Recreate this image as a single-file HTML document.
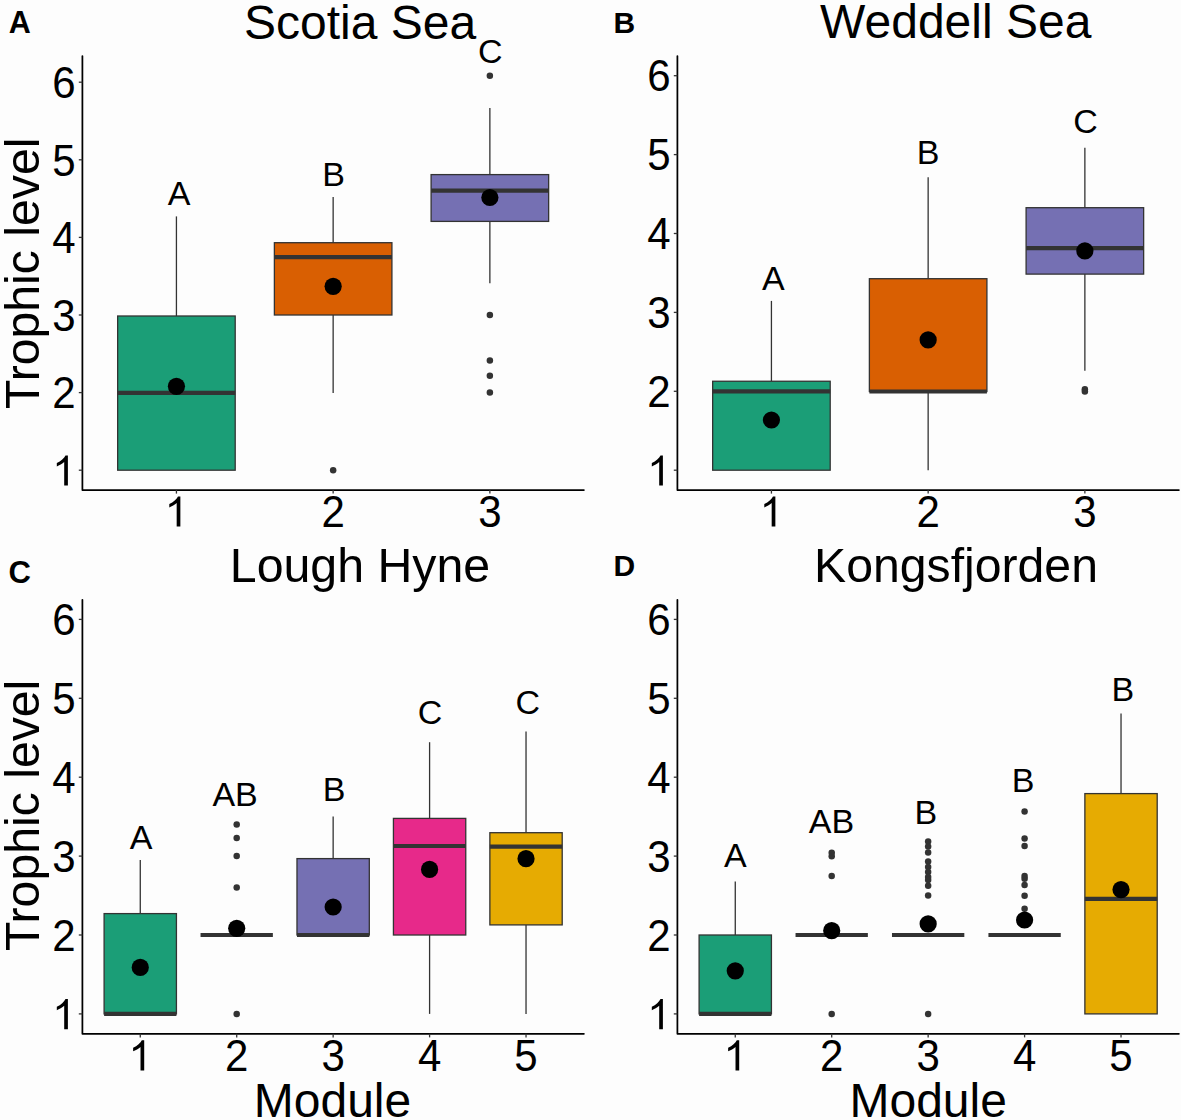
<!DOCTYPE html>
<html><head><meta charset="utf-8"><style>
html,body{margin:0;padding:0;background:#fdfdfd;}
svg{display:block;}
text{font-family:"Liberation Sans", sans-serif;fill:#000;}
</style></head><body>
<svg width="1181" height="1120" viewBox="0 0 1181 1120">
<rect width="1181" height="1120" fill="#fdfdfd"/>
<line x1="176.43" y1="216.40" x2="176.43" y2="316.00" stroke="#333" stroke-width="1.3"/>
<line x1="176.43" y1="470.20" x2="176.43" y2="470.20" stroke="#333" stroke-width="1.3"/>
<rect x="117.66" y="316.00" width="117.54" height="154.20" fill="#1B9E77" stroke="#333" stroke-width="1.3"/>
<line x1="117.66" y1="392.90" x2="235.20" y2="392.90" stroke="#333" stroke-width="4.2" stroke-linecap="butt"/>
<circle cx="176.43" cy="386.30" r="8.6" fill="#000"/>
<line x1="333.15" y1="197.10" x2="333.15" y2="242.70" stroke="#333" stroke-width="1.3"/>
<line x1="333.15" y1="315.00" x2="333.15" y2="392.90" stroke="#333" stroke-width="1.3"/>
<rect x="274.38" y="242.70" width="117.54" height="72.30" fill="#D95F02" stroke="#333" stroke-width="1.3"/>
<line x1="274.38" y1="257.20" x2="391.92" y2="257.20" stroke="#333" stroke-width="4.2" stroke-linecap="butt"/>
<circle cx="333.15" cy="470.20" r="3.25" fill="#333"/>
<circle cx="333.15" cy="286.30" r="8.6" fill="#000"/>
<line x1="489.87" y1="108.00" x2="489.87" y2="174.60" stroke="#333" stroke-width="1.3"/>
<line x1="489.87" y1="221.40" x2="489.87" y2="283.20" stroke="#333" stroke-width="1.3"/>
<rect x="431.10" y="174.60" width="117.54" height="46.80" fill="#7570B3" stroke="#333" stroke-width="1.3"/>
<line x1="431.10" y1="190.70" x2="548.64" y2="190.70" stroke="#333" stroke-width="4.2" stroke-linecap="butt"/>
<circle cx="489.87" cy="75.70" r="3.25" fill="#333"/>
<circle cx="489.87" cy="315.00" r="3.25" fill="#333"/>
<circle cx="489.87" cy="360.40" r="3.25" fill="#333"/>
<circle cx="489.87" cy="375.70" r="3.25" fill="#333"/>
<circle cx="489.87" cy="392.50" r="3.25" fill="#333"/>
<circle cx="489.87" cy="197.50" r="8.6" fill="#000"/>
<path d="M82.4 56V490H583.9" fill="none" stroke="#000" stroke-width="1.75" stroke-linecap="round" stroke-linejoin="round"/>
<line x1="78.80" y1="470.20" x2="82.40" y2="470.20" stroke="#333" stroke-width="1.3"/>
<line x1="78.80" y1="392.60" x2="82.40" y2="392.60" stroke="#333" stroke-width="1.3"/>
<line x1="78.80" y1="315.00" x2="82.40" y2="315.00" stroke="#333" stroke-width="1.3"/>
<line x1="78.80" y1="237.40" x2="82.40" y2="237.40" stroke="#333" stroke-width="1.3"/>
<line x1="78.80" y1="159.80" x2="82.40" y2="159.80" stroke="#333" stroke-width="1.3"/>
<line x1="78.80" y1="82.20" x2="82.40" y2="82.20" stroke="#333" stroke-width="1.3"/>
<line x1="176.43" y1="490.00" x2="176.43" y2="493.60" stroke="#333" stroke-width="1.3"/>
<line x1="333.15" y1="490.00" x2="333.15" y2="493.60" stroke="#333" stroke-width="1.3"/>
<line x1="489.87" y1="490.00" x2="489.87" y2="493.60" stroke="#333" stroke-width="1.3"/>
<line x1="771.43" y1="300.90" x2="771.43" y2="381.25" stroke="#333" stroke-width="1.3"/>
<line x1="771.43" y1="470.20" x2="771.43" y2="470.20" stroke="#333" stroke-width="1.3"/>
<rect x="712.66" y="381.25" width="117.54" height="88.95" fill="#1B9E77" stroke="#333" stroke-width="1.3"/>
<line x1="712.66" y1="391.40" x2="830.20" y2="391.40" stroke="#333" stroke-width="4.2" stroke-linecap="butt"/>
<circle cx="771.43" cy="420.00" r="8.6" fill="#000"/>
<line x1="928.15" y1="177.30" x2="928.15" y2="278.70" stroke="#333" stroke-width="1.3"/>
<line x1="928.15" y1="391.50" x2="928.15" y2="470.20" stroke="#333" stroke-width="1.3"/>
<rect x="869.38" y="278.70" width="117.54" height="112.80" fill="#D95F02" stroke="#333" stroke-width="1.3"/>
<line x1="869.38" y1="391.50" x2="986.92" y2="391.50" stroke="#333" stroke-width="4.2" stroke-linecap="butt"/>
<circle cx="928.15" cy="339.90" r="8.6" fill="#000"/>
<line x1="1084.87" y1="147.70" x2="1084.87" y2="207.70" stroke="#333" stroke-width="1.3"/>
<line x1="1084.87" y1="274.10" x2="1084.87" y2="370.70" stroke="#333" stroke-width="1.3"/>
<rect x="1026.10" y="207.70" width="117.54" height="66.40" fill="#7570B3" stroke="#333" stroke-width="1.3"/>
<line x1="1026.10" y1="248.10" x2="1143.64" y2="248.10" stroke="#333" stroke-width="4.2" stroke-linecap="butt"/>
<circle cx="1084.87" cy="389.20" r="3.25" fill="#333"/>
<circle cx="1084.87" cy="391.50" r="3.25" fill="#333"/>
<circle cx="1084.87" cy="250.80" r="8.6" fill="#000"/>
<path d="M677.4 56V490H1178.9" fill="none" stroke="#000" stroke-width="1.75" stroke-linecap="round" stroke-linejoin="round"/>
<line x1="673.80" y1="470.20" x2="677.40" y2="470.20" stroke="#333" stroke-width="1.3"/>
<line x1="673.80" y1="391.30" x2="677.40" y2="391.30" stroke="#333" stroke-width="1.3"/>
<line x1="673.80" y1="312.40" x2="677.40" y2="312.40" stroke="#333" stroke-width="1.3"/>
<line x1="673.80" y1="233.50" x2="677.40" y2="233.50" stroke="#333" stroke-width="1.3"/>
<line x1="673.80" y1="154.60" x2="677.40" y2="154.60" stroke="#333" stroke-width="1.3"/>
<line x1="673.80" y1="75.70" x2="677.40" y2="75.70" stroke="#333" stroke-width="1.3"/>
<line x1="771.43" y1="490.00" x2="771.43" y2="493.60" stroke="#333" stroke-width="1.3"/>
<line x1="928.15" y1="490.00" x2="928.15" y2="493.60" stroke="#333" stroke-width="1.3"/>
<line x1="1084.87" y1="490.00" x2="1084.87" y2="493.60" stroke="#333" stroke-width="1.3"/>
<line x1="140.27" y1="860.00" x2="140.27" y2="913.60" stroke="#333" stroke-width="1.3"/>
<line x1="140.27" y1="1013.90" x2="140.27" y2="1013.90" stroke="#333" stroke-width="1.3"/>
<rect x="104.10" y="913.60" width="72.33" height="100.30" fill="#1B9E77" stroke="#333" stroke-width="1.3"/>
<line x1="104.10" y1="1013.90" x2="176.43" y2="1013.90" stroke="#333" stroke-width="4.2" stroke-linecap="butt"/>
<circle cx="140.27" cy="967.40" r="8.6" fill="#000"/>
<line x1="236.71" y1="935.00" x2="236.71" y2="935.00" stroke="#333" stroke-width="1.3"/>
<line x1="236.71" y1="935.00" x2="236.71" y2="935.00" stroke="#333" stroke-width="1.3"/>
<rect x="200.54" y="935.00" width="72.33" height="0.00" fill="#D95F02" stroke="#333" stroke-width="1.3"/>
<line x1="200.54" y1="935.00" x2="272.87" y2="935.00" stroke="#333" stroke-width="4.2" stroke-linecap="butt"/>
<circle cx="236.71" cy="824.60" r="3.25" fill="#333"/>
<circle cx="236.71" cy="838.00" r="3.25" fill="#333"/>
<circle cx="236.71" cy="856.00" r="3.25" fill="#333"/>
<circle cx="236.71" cy="887.60" r="3.25" fill="#333"/>
<circle cx="236.71" cy="1014.00" r="3.25" fill="#333"/>
<circle cx="236.71" cy="928.30" r="8.6" fill="#000"/>
<line x1="333.15" y1="816.60" x2="333.15" y2="858.60" stroke="#333" stroke-width="1.3"/>
<line x1="333.15" y1="935.00" x2="333.15" y2="935.00" stroke="#333" stroke-width="1.3"/>
<rect x="296.98" y="858.60" width="72.33" height="76.40" fill="#7570B3" stroke="#333" stroke-width="1.3"/>
<line x1="296.98" y1="935.00" x2="369.32" y2="935.00" stroke="#333" stroke-width="4.2" stroke-linecap="butt"/>
<circle cx="333.15" cy="907.00" r="8.6" fill="#000"/>
<line x1="429.59" y1="742.20" x2="429.59" y2="818.40" stroke="#333" stroke-width="1.3"/>
<line x1="429.59" y1="935.00" x2="429.59" y2="1013.90" stroke="#333" stroke-width="1.3"/>
<rect x="393.43" y="818.40" width="72.33" height="116.60" fill="#E7298A" stroke="#333" stroke-width="1.3"/>
<line x1="393.43" y1="846.00" x2="465.76" y2="846.00" stroke="#333" stroke-width="4.2" stroke-linecap="butt"/>
<circle cx="429.59" cy="869.40" r="8.6" fill="#000"/>
<line x1="526.03" y1="731.50" x2="526.03" y2="832.70" stroke="#333" stroke-width="1.3"/>
<line x1="526.03" y1="924.90" x2="526.03" y2="1013.90" stroke="#333" stroke-width="1.3"/>
<rect x="489.87" y="832.70" width="72.33" height="92.20" fill="#E6AB02" stroke="#333" stroke-width="1.3"/>
<line x1="489.87" y1="846.70" x2="562.20" y2="846.70" stroke="#333" stroke-width="4.2" stroke-linecap="butt"/>
<circle cx="526.03" cy="858.70" r="8.6" fill="#000"/>
<path d="M82.4 599.8V1033.8H583.9" fill="none" stroke="#000" stroke-width="1.75" stroke-linecap="round" stroke-linejoin="round"/>
<line x1="78.80" y1="1013.90" x2="82.40" y2="1013.90" stroke="#333" stroke-width="1.3"/>
<line x1="78.80" y1="935.00" x2="82.40" y2="935.00" stroke="#333" stroke-width="1.3"/>
<line x1="78.80" y1="856.10" x2="82.40" y2="856.10" stroke="#333" stroke-width="1.3"/>
<line x1="78.80" y1="777.20" x2="82.40" y2="777.20" stroke="#333" stroke-width="1.3"/>
<line x1="78.80" y1="698.30" x2="82.40" y2="698.30" stroke="#333" stroke-width="1.3"/>
<line x1="78.80" y1="619.40" x2="82.40" y2="619.40" stroke="#333" stroke-width="1.3"/>
<line x1="140.27" y1="1033.80" x2="140.27" y2="1037.40" stroke="#333" stroke-width="1.3"/>
<line x1="236.71" y1="1033.80" x2="236.71" y2="1037.40" stroke="#333" stroke-width="1.3"/>
<line x1="333.15" y1="1033.80" x2="333.15" y2="1037.40" stroke="#333" stroke-width="1.3"/>
<line x1="429.59" y1="1033.80" x2="429.59" y2="1037.40" stroke="#333" stroke-width="1.3"/>
<line x1="526.03" y1="1033.80" x2="526.03" y2="1037.40" stroke="#333" stroke-width="1.3"/>
<line x1="735.27" y1="881.60" x2="735.27" y2="935.00" stroke="#333" stroke-width="1.3"/>
<line x1="735.27" y1="1013.90" x2="735.27" y2="1013.90" stroke="#333" stroke-width="1.3"/>
<rect x="699.10" y="935.00" width="72.33" height="78.90" fill="#1B9E77" stroke="#333" stroke-width="1.3"/>
<line x1="699.10" y1="1013.90" x2="771.43" y2="1013.90" stroke="#333" stroke-width="4.2" stroke-linecap="butt"/>
<circle cx="735.27" cy="970.80" r="8.6" fill="#000"/>
<line x1="831.71" y1="935.00" x2="831.71" y2="935.00" stroke="#333" stroke-width="1.3"/>
<line x1="831.71" y1="935.00" x2="831.71" y2="935.00" stroke="#333" stroke-width="1.3"/>
<rect x="795.54" y="935.00" width="72.33" height="0.00" fill="#D95F02" stroke="#333" stroke-width="1.3"/>
<line x1="795.54" y1="935.00" x2="867.87" y2="935.00" stroke="#333" stroke-width="4.2" stroke-linecap="butt"/>
<circle cx="831.71" cy="852.70" r="3.25" fill="#333"/>
<circle cx="831.71" cy="856.30" r="3.25" fill="#333"/>
<circle cx="831.71" cy="875.90" r="3.25" fill="#333"/>
<circle cx="831.71" cy="1014.00" r="3.25" fill="#333"/>
<circle cx="831.71" cy="930.70" r="8.6" fill="#000"/>
<line x1="928.15" y1="935.00" x2="928.15" y2="935.00" stroke="#333" stroke-width="1.3"/>
<line x1="928.15" y1="935.00" x2="928.15" y2="935.00" stroke="#333" stroke-width="1.3"/>
<rect x="891.98" y="935.00" width="72.33" height="0.00" fill="#7570B3" stroke="#333" stroke-width="1.3"/>
<line x1="891.98" y1="935.00" x2="964.32" y2="935.00" stroke="#333" stroke-width="4.2" stroke-linecap="butt"/>
<circle cx="928.15" cy="841.50" r="3.25" fill="#333"/>
<circle cx="928.15" cy="846.50" r="3.25" fill="#333"/>
<circle cx="928.15" cy="852.50" r="3.25" fill="#333"/>
<circle cx="928.15" cy="861.50" r="3.25" fill="#333"/>
<circle cx="928.15" cy="867.00" r="3.25" fill="#333"/>
<circle cx="928.15" cy="872.00" r="3.25" fill="#333"/>
<circle cx="928.15" cy="877.00" r="3.25" fill="#333"/>
<circle cx="928.15" cy="880.00" r="3.25" fill="#333"/>
<circle cx="928.15" cy="885.70" r="3.25" fill="#333"/>
<circle cx="928.15" cy="895.50" r="3.25" fill="#333"/>
<circle cx="928.15" cy="1014.00" r="3.25" fill="#333"/>
<circle cx="928.15" cy="923.90" r="8.6" fill="#000"/>
<line x1="1024.59" y1="935.00" x2="1024.59" y2="935.00" stroke="#333" stroke-width="1.3"/>
<line x1="1024.59" y1="935.00" x2="1024.59" y2="935.00" stroke="#333" stroke-width="1.3"/>
<rect x="988.43" y="935.00" width="72.33" height="0.00" fill="#E7298A" stroke="#333" stroke-width="1.3"/>
<line x1="988.43" y1="935.00" x2="1060.76" y2="935.00" stroke="#333" stroke-width="4.2" stroke-linecap="butt"/>
<circle cx="1024.59" cy="811.50" r="3.25" fill="#333"/>
<circle cx="1024.59" cy="838.60" r="3.25" fill="#333"/>
<circle cx="1024.59" cy="846.10" r="3.25" fill="#333"/>
<circle cx="1024.59" cy="876.10" r="3.25" fill="#333"/>
<circle cx="1024.59" cy="878.80" r="3.25" fill="#333"/>
<circle cx="1024.59" cy="884.90" r="3.25" fill="#333"/>
<circle cx="1024.59" cy="895.70" r="3.25" fill="#333"/>
<circle cx="1024.59" cy="908.80" r="3.25" fill="#333"/>
<circle cx="1024.59" cy="920.00" r="8.6" fill="#000"/>
<line x1="1121.03" y1="713.50" x2="1121.03" y2="793.60" stroke="#333" stroke-width="1.3"/>
<line x1="1121.03" y1="1013.90" x2="1121.03" y2="1013.90" stroke="#333" stroke-width="1.3"/>
<rect x="1084.87" y="793.60" width="72.33" height="220.30" fill="#E6AB02" stroke="#333" stroke-width="1.3"/>
<line x1="1084.87" y1="898.80" x2="1157.20" y2="898.80" stroke="#333" stroke-width="4.2" stroke-linecap="butt"/>
<circle cx="1121.03" cy="889.60" r="8.6" fill="#000"/>
<path d="M677.4 599.8V1033.8H1178.9" fill="none" stroke="#000" stroke-width="1.75" stroke-linecap="round" stroke-linejoin="round"/>
<line x1="673.80" y1="1013.90" x2="677.40" y2="1013.90" stroke="#333" stroke-width="1.3"/>
<line x1="673.80" y1="935.00" x2="677.40" y2="935.00" stroke="#333" stroke-width="1.3"/>
<line x1="673.80" y1="856.10" x2="677.40" y2="856.10" stroke="#333" stroke-width="1.3"/>
<line x1="673.80" y1="777.20" x2="677.40" y2="777.20" stroke="#333" stroke-width="1.3"/>
<line x1="673.80" y1="698.30" x2="677.40" y2="698.30" stroke="#333" stroke-width="1.3"/>
<line x1="673.80" y1="619.40" x2="677.40" y2="619.40" stroke="#333" stroke-width="1.3"/>
<line x1="735.27" y1="1033.80" x2="735.27" y2="1037.40" stroke="#333" stroke-width="1.3"/>
<line x1="831.71" y1="1033.80" x2="831.71" y2="1037.40" stroke="#333" stroke-width="1.3"/>
<line x1="928.15" y1="1033.80" x2="928.15" y2="1037.40" stroke="#333" stroke-width="1.3"/>
<line x1="1024.59" y1="1033.80" x2="1024.59" y2="1037.40" stroke="#333" stroke-width="1.3"/>
<line x1="1121.03" y1="1033.80" x2="1121.03" y2="1037.40" stroke="#333" stroke-width="1.3"/>
<path id="ytA1" d="M763 0H583V1147Q518 1085 412.5 1023Q307 961 223 930V1104Q374 1175 487 1276Q600 1377 647 1472H763Z" fill="#000" transform="translate(52.24 485.60) scale(0.02051 -0.02051)"/>
<text id="ytA2" x="0" y="0" font-size="42" text-anchor="end" transform="translate(75.60 408.30) scale(1 1.04)">2</text>
<text id="ytA3" x="0" y="0" font-size="42" text-anchor="end" transform="translate(75.60 330.70) scale(1 1.04)">3</text>
<text id="ytA4" x="0" y="0" font-size="42" text-anchor="end" transform="translate(75.60 253.10) scale(1 1.04)">4</text>
<text id="ytA5" x="0" y="0" font-size="42" text-anchor="end" transform="translate(75.60 175.50) scale(1 1.04)">5</text>
<text id="ytA6" x="0" y="0" font-size="42" text-anchor="end" transform="translate(75.60 97.90) scale(1 1.04)">6</text>
<path id="xtA1" d="M763 0H583V1147Q518 1085 412.5 1023Q307 961 223 930V1104Q374 1175 487 1276Q600 1377 647 1472H763Z" fill="#000" transform="translate(164.72 526.60) scale(0.02051 -0.02051)"/>
<text id="xtA2" x="0" y="0" font-size="42" text-anchor="middle" transform="translate(333.15 527.30) scale(1 1.04)">2</text>
<text id="xtA3" x="0" y="0" font-size="42" text-anchor="middle" transform="translate(489.87 527.30) scale(1 1.04)">3</text>
<path id="ytB1" d="M763 0H583V1147Q518 1085 412.5 1023Q307 961 223 930V1104Q374 1175 487 1276Q600 1377 647 1472H763Z" fill="#000" transform="translate(647.24 485.60) scale(0.02051 -0.02051)"/>
<text id="ytB2" x="0" y="0" font-size="42" text-anchor="end" transform="translate(670.60 407.00) scale(1 1.04)">2</text>
<text id="ytB3" x="0" y="0" font-size="42" text-anchor="end" transform="translate(670.60 328.10) scale(1 1.04)">3</text>
<text id="ytB4" x="0" y="0" font-size="42" text-anchor="end" transform="translate(670.60 249.20) scale(1 1.04)">4</text>
<text id="ytB5" x="0" y="0" font-size="42" text-anchor="end" transform="translate(670.60 170.30) scale(1 1.04)">5</text>
<text id="ytB6" x="0" y="0" font-size="42" text-anchor="end" transform="translate(670.60 91.40) scale(1 1.04)">6</text>
<path id="xtB1" d="M763 0H583V1147Q518 1085 412.5 1023Q307 961 223 930V1104Q374 1175 487 1276Q600 1377 647 1472H763Z" fill="#000" transform="translate(759.72 526.60) scale(0.02051 -0.02051)"/>
<text id="xtB2" x="0" y="0" font-size="42" text-anchor="middle" transform="translate(928.15 527.30) scale(1 1.04)">2</text>
<text id="xtB3" x="0" y="0" font-size="42" text-anchor="middle" transform="translate(1084.87 527.30) scale(1 1.04)">3</text>
<path id="ytC1" d="M763 0H583V1147Q518 1085 412.5 1023Q307 961 223 930V1104Q374 1175 487 1276Q600 1377 647 1472H763Z" fill="#000" transform="translate(52.24 1029.30) scale(0.02051 -0.02051)"/>
<text id="ytC2" x="0" y="0" font-size="42" text-anchor="end" transform="translate(75.60 950.70) scale(1 1.04)">2</text>
<text id="ytC3" x="0" y="0" font-size="42" text-anchor="end" transform="translate(75.60 871.80) scale(1 1.04)">3</text>
<text id="ytC4" x="0" y="0" font-size="42" text-anchor="end" transform="translate(75.60 792.90) scale(1 1.04)">4</text>
<text id="ytC5" x="0" y="0" font-size="42" text-anchor="end" transform="translate(75.60 714.00) scale(1 1.04)">5</text>
<text id="ytC6" x="0" y="0" font-size="42" text-anchor="end" transform="translate(75.60 635.10) scale(1 1.04)">6</text>
<path id="xtC1" d="M763 0H583V1147Q518 1085 412.5 1023Q307 961 223 930V1104Q374 1175 487 1276Q600 1377 647 1472H763Z" fill="#000" transform="translate(128.56 1070.40) scale(0.02051 -0.02051)"/>
<text id="xtC2" x="0" y="0" font-size="42" text-anchor="middle" transform="translate(236.71 1071.10) scale(1 1.04)">2</text>
<text id="xtC3" x="0" y="0" font-size="42" text-anchor="middle" transform="translate(333.15 1071.10) scale(1 1.04)">3</text>
<text id="xtC4" x="0" y="0" font-size="42" text-anchor="middle" transform="translate(429.59 1071.10) scale(1 1.04)">4</text>
<text id="xtC5" x="0" y="0" font-size="42" text-anchor="middle" transform="translate(526.03 1071.10) scale(1 1.04)">5</text>
<path id="ytD1" d="M763 0H583V1147Q518 1085 412.5 1023Q307 961 223 930V1104Q374 1175 487 1276Q600 1377 647 1472H763Z" fill="#000" transform="translate(647.24 1029.30) scale(0.02051 -0.02051)"/>
<text id="ytD2" x="0" y="0" font-size="42" text-anchor="end" transform="translate(670.60 950.70) scale(1 1.04)">2</text>
<text id="ytD3" x="0" y="0" font-size="42" text-anchor="end" transform="translate(670.60 871.80) scale(1 1.04)">3</text>
<text id="ytD4" x="0" y="0" font-size="42" text-anchor="end" transform="translate(670.60 792.90) scale(1 1.04)">4</text>
<text id="ytD5" x="0" y="0" font-size="42" text-anchor="end" transform="translate(670.60 714.00) scale(1 1.04)">5</text>
<text id="ytD6" x="0" y="0" font-size="42" text-anchor="end" transform="translate(670.60 635.10) scale(1 1.04)">6</text>
<path id="xtD1" d="M763 0H583V1147Q518 1085 412.5 1023Q307 961 223 930V1104Q374 1175 487 1276Q600 1377 647 1472H763Z" fill="#000" transform="translate(723.56 1070.40) scale(0.02051 -0.02051)"/>
<text id="xtD2" x="0" y="0" font-size="42" text-anchor="middle" transform="translate(831.71 1071.10) scale(1 1.04)">2</text>
<text id="xtD3" x="0" y="0" font-size="42" text-anchor="middle" transform="translate(928.15 1071.10) scale(1 1.04)">3</text>
<text id="xtD4" x="0" y="0" font-size="42" text-anchor="middle" transform="translate(1024.59 1071.10) scale(1 1.04)">4</text>
<text id="xtD5" x="0" y="0" font-size="42" text-anchor="middle" transform="translate(1121.03 1071.10) scale(1 1.04)">5</text>
<text id="ttA" x="360.00" y="38.60" font-size="48" text-anchor="middle" font-weight="normal">Scotia Sea</text>
<text id="ttB" x="955.75" y="38.30" font-size="48" text-anchor="middle" font-weight="normal">Weddell Sea</text>
<text id="ttC" x="360.00" y="582.20" font-size="48.3" text-anchor="middle" font-weight="normal">Lough Hyne</text>
<text id="ttD" x="956.00" y="582.00" font-size="48.2" text-anchor="middle" font-weight="normal">Kongsfjorden</text>
<text id="plA" x="8.70" y="33.40" font-size="30.5" text-anchor="start" font-weight="bold">A</text>
<text id="plB" x="613.50" y="33.30" font-size="30" text-anchor="start" font-weight="bold">B</text>
<text id="plC" x="8.50" y="583.20" font-size="31" text-anchor="start" font-weight="bold">C</text>
<text id="plD" x="613.50" y="576.40" font-size="30" text-anchor="start" font-weight="bold">D</text>
<text id="ytiA" x="39.40" y="273.30" font-size="48.2" text-anchor="middle" font-weight="normal" transform="rotate(-90 39.4 273.3)">Trophic level</text>
<text id="ytiC" x="39.40" y="815.40" font-size="48.2" text-anchor="middle" font-weight="normal" transform="rotate(-90 39.4 815.4)">Trophic level</text>
<text id="xtiC" x="332.50" y="1117.40" font-size="48" text-anchor="middle" font-weight="normal">Module</text>
<text id="xtiD" x="928.20" y="1117.40" font-size="48" text-anchor="middle" font-weight="normal">Module</text>
<text id="sig0" x="179.20" y="204.80" font-size="34" text-anchor="middle" font-weight="normal">A</text>
<text id="sig1" x="333.60" y="186.30" font-size="34" text-anchor="middle" font-weight="normal">B</text>
<text id="sig2" x="490.30" y="63.00" font-size="34" text-anchor="middle" font-weight="normal">C</text>
<text id="sig3" x="773.25" y="290.20" font-size="34" text-anchor="middle" font-weight="normal">A</text>
<text id="sig4" x="928.10" y="163.70" font-size="34" text-anchor="middle" font-weight="normal">B</text>
<text id="sig5" x="1085.50" y="132.60" font-size="34" text-anchor="middle" font-weight="normal">C</text>
<text id="sig6" x="141.15" y="849.30" font-size="34" text-anchor="middle" font-weight="normal">A</text>
<text id="sig7" x="235.10" y="806.10" font-size="34" text-anchor="middle" font-weight="normal">AB</text>
<text id="sig8" x="334.20" y="801.00" font-size="34" text-anchor="middle" font-weight="normal">B</text>
<text id="sig9" x="430.10" y="724.30" font-size="34" text-anchor="middle" font-weight="normal">C</text>
<text id="sig10" x="527.90" y="714.20" font-size="34" text-anchor="middle" font-weight="normal">C</text>
<text id="sig11" x="735.30" y="867.10" font-size="34" text-anchor="middle" font-weight="normal">A</text>
<text id="sig12" x="831.50" y="833.10" font-size="34" text-anchor="middle" font-weight="normal">AB</text>
<text id="sig13" x="925.90" y="823.90" font-size="34" text-anchor="middle" font-weight="normal">B</text>
<text id="sig14" x="1023.10" y="792.00" font-size="34" text-anchor="middle" font-weight="normal">B</text>
<text id="sig15" x="1122.90" y="700.90" font-size="34" text-anchor="middle" font-weight="normal">B</text>
</svg></body></html>
